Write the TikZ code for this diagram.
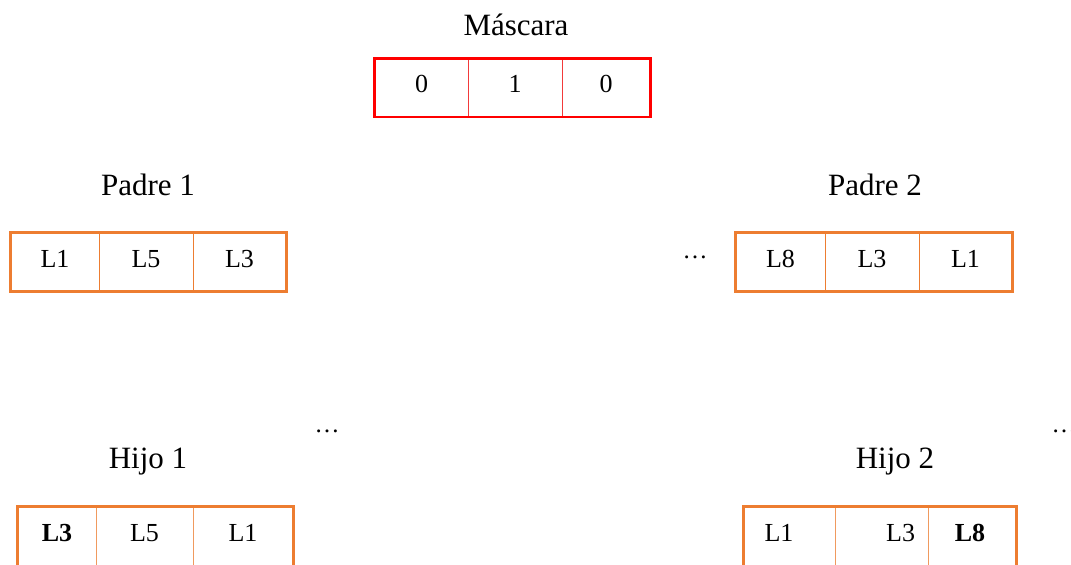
\documentclass[tikz,border=0pt]{standalone}
\usepackage{fontspec}
\setmainfont{Liberation Serif}
\definecolor{maskred}{HTML}{FF0000}
\definecolor{maskdivc}{HTML}{F23A3A}
\definecolor{orng}{HTML}{ED7D31}
\definecolor{orngdiv}{HTML}{F09A5E}
\tikzset{
  hdr/.style={anchor=base, font=\fontsize{15.5}{18}\selectfont, inner sep=0pt},
  cellbox/.style={inner xsep=0pt, inner ysep=0pt, minimum height=29pt,
    text height=8.8pt, text depth=3.6pt, font=\fontsize{13}{15}\selectfont},
  maskframe/.style={draw=maskred, line width=1.4pt},
  maskdiv/.style={draw=maskdivc, line width=0.5pt},
  oframe/.style={draw=orng, line width=1.4pt},
  odiv/.style={draw=orng, line width=0.9pt},
  odivlight/.style={draw=orngdiv, line width=0.8pt},
  dotsnode/.style={anchor=base, inner sep=0pt, font=\fontsize{12.5}{15}\selectfont}
}
\begin{document}
\begin{tikzpicture}[x=0.5pt,y=-0.5pt]
\useasboundingbox (0,0) rectangle (1071,564);
\begin{scope}
\clip (0,0) rectangle (1071,564);
% Mascara
\node[hdr] (tm) at (516,35) {Máscara};
\node[cellbox, minimum width=46.5pt] (m1) at (421.5,87.5) {0};
\node[cellbox, minimum width=47pt] (m2) at (515,87.5) {1};
\node[cellbox, minimum width=44pt] (m3) at (606,87.5) {0};
\draw[maskdiv] (m1.north east) -- (m1.south east);
\draw[maskdiv] (m2.north east) -- (m2.south east);
\draw[maskframe] (m1.north west) rectangle (m3.south east);
% Padre 1
\node[hdr] (tp1) at (148,195) {Padre 1};
\node[cellbox, minimum width=44pt] (p11) at (55,262) {L1};
\node[cellbox, minimum width=47pt] (p12) at (146,262) {L5};
\node[cellbox, minimum width=46.5pt] (p13) at (239.5,262) {L3};
\draw[odiv] (p11.north east) -- (p11.south east);
\draw[odiv] (p12.north east) -- (p12.south east);
\draw[oframe] (p11.north west) rectangle (p13.south east);
% Padre 2
\node[hdr] (tp2) at (875,195) {Padre 2};
\node[dotsnode] (d1) at (695,258) {\ldots};
\node[cellbox, minimum width=44.5pt] (p21) at (780.5,262) {L8};
\node[cellbox, minimum width=47pt] (p22) at (872,262) {L3};
\node[cellbox, minimum width=46.5pt] (p23) at (965.5,262) {L1};
\draw[odiv] (p21.north east) -- (p21.south east);
\draw[odiv] (p22.north east) -- (p22.south east);
\draw[oframe] (p21.north west) rectangle (p23.south east);
% Hijo 1
\node[dotsnode] (d2) at (327,432) {\ldots};
\node[hdr] (th1) at (148,468) {Hijo 1};
\node[cellbox, minimum width=39pt] (h11) at (57,536) {\textbf{L3}};
\node[cellbox, minimum width=48.5pt] (h12) at (144.5,536) {L5};
\node[cellbox, minimum width=50pt] (h13) at (243,536) {L1};
\draw[odivlight] (h11.north east) -- ([yshift=-10pt]h11.south east);
\draw[odivlight] (h12.north east) -- ([yshift=-10pt]h12.south east);
\draw[oframe] (h11.north west) rectangle ([yshift=-10pt]h13.south east);
% Hijo 2
\node[dotsnode] (d3) at (1064,432) {\ldots};
\node[hdr] (th2) at (895,468) {Hijo 2};
\node[cellbox, minimum width=45.5pt, text width=25pt, align=left] (h21) at (789.5,536) {L1};
\node[cellbox, minimum width=46.5pt, text width=33.5pt, align=right] (h22) at (881.5,536) {L3};
\node[cellbox, minimum width=46pt] (h23) at (970,536) {\textbf{L8}};
\draw[odivlight] (h21.north east) -- ([yshift=-10pt]h21.south east);
\draw[odivlight] (h22.north east) -- ([yshift=-10pt]h22.south east);
\draw[oframe] (h21.north west) rectangle ([yshift=-10pt]h23.south east);
\end{scope}
\end{tikzpicture}
\end{document}
